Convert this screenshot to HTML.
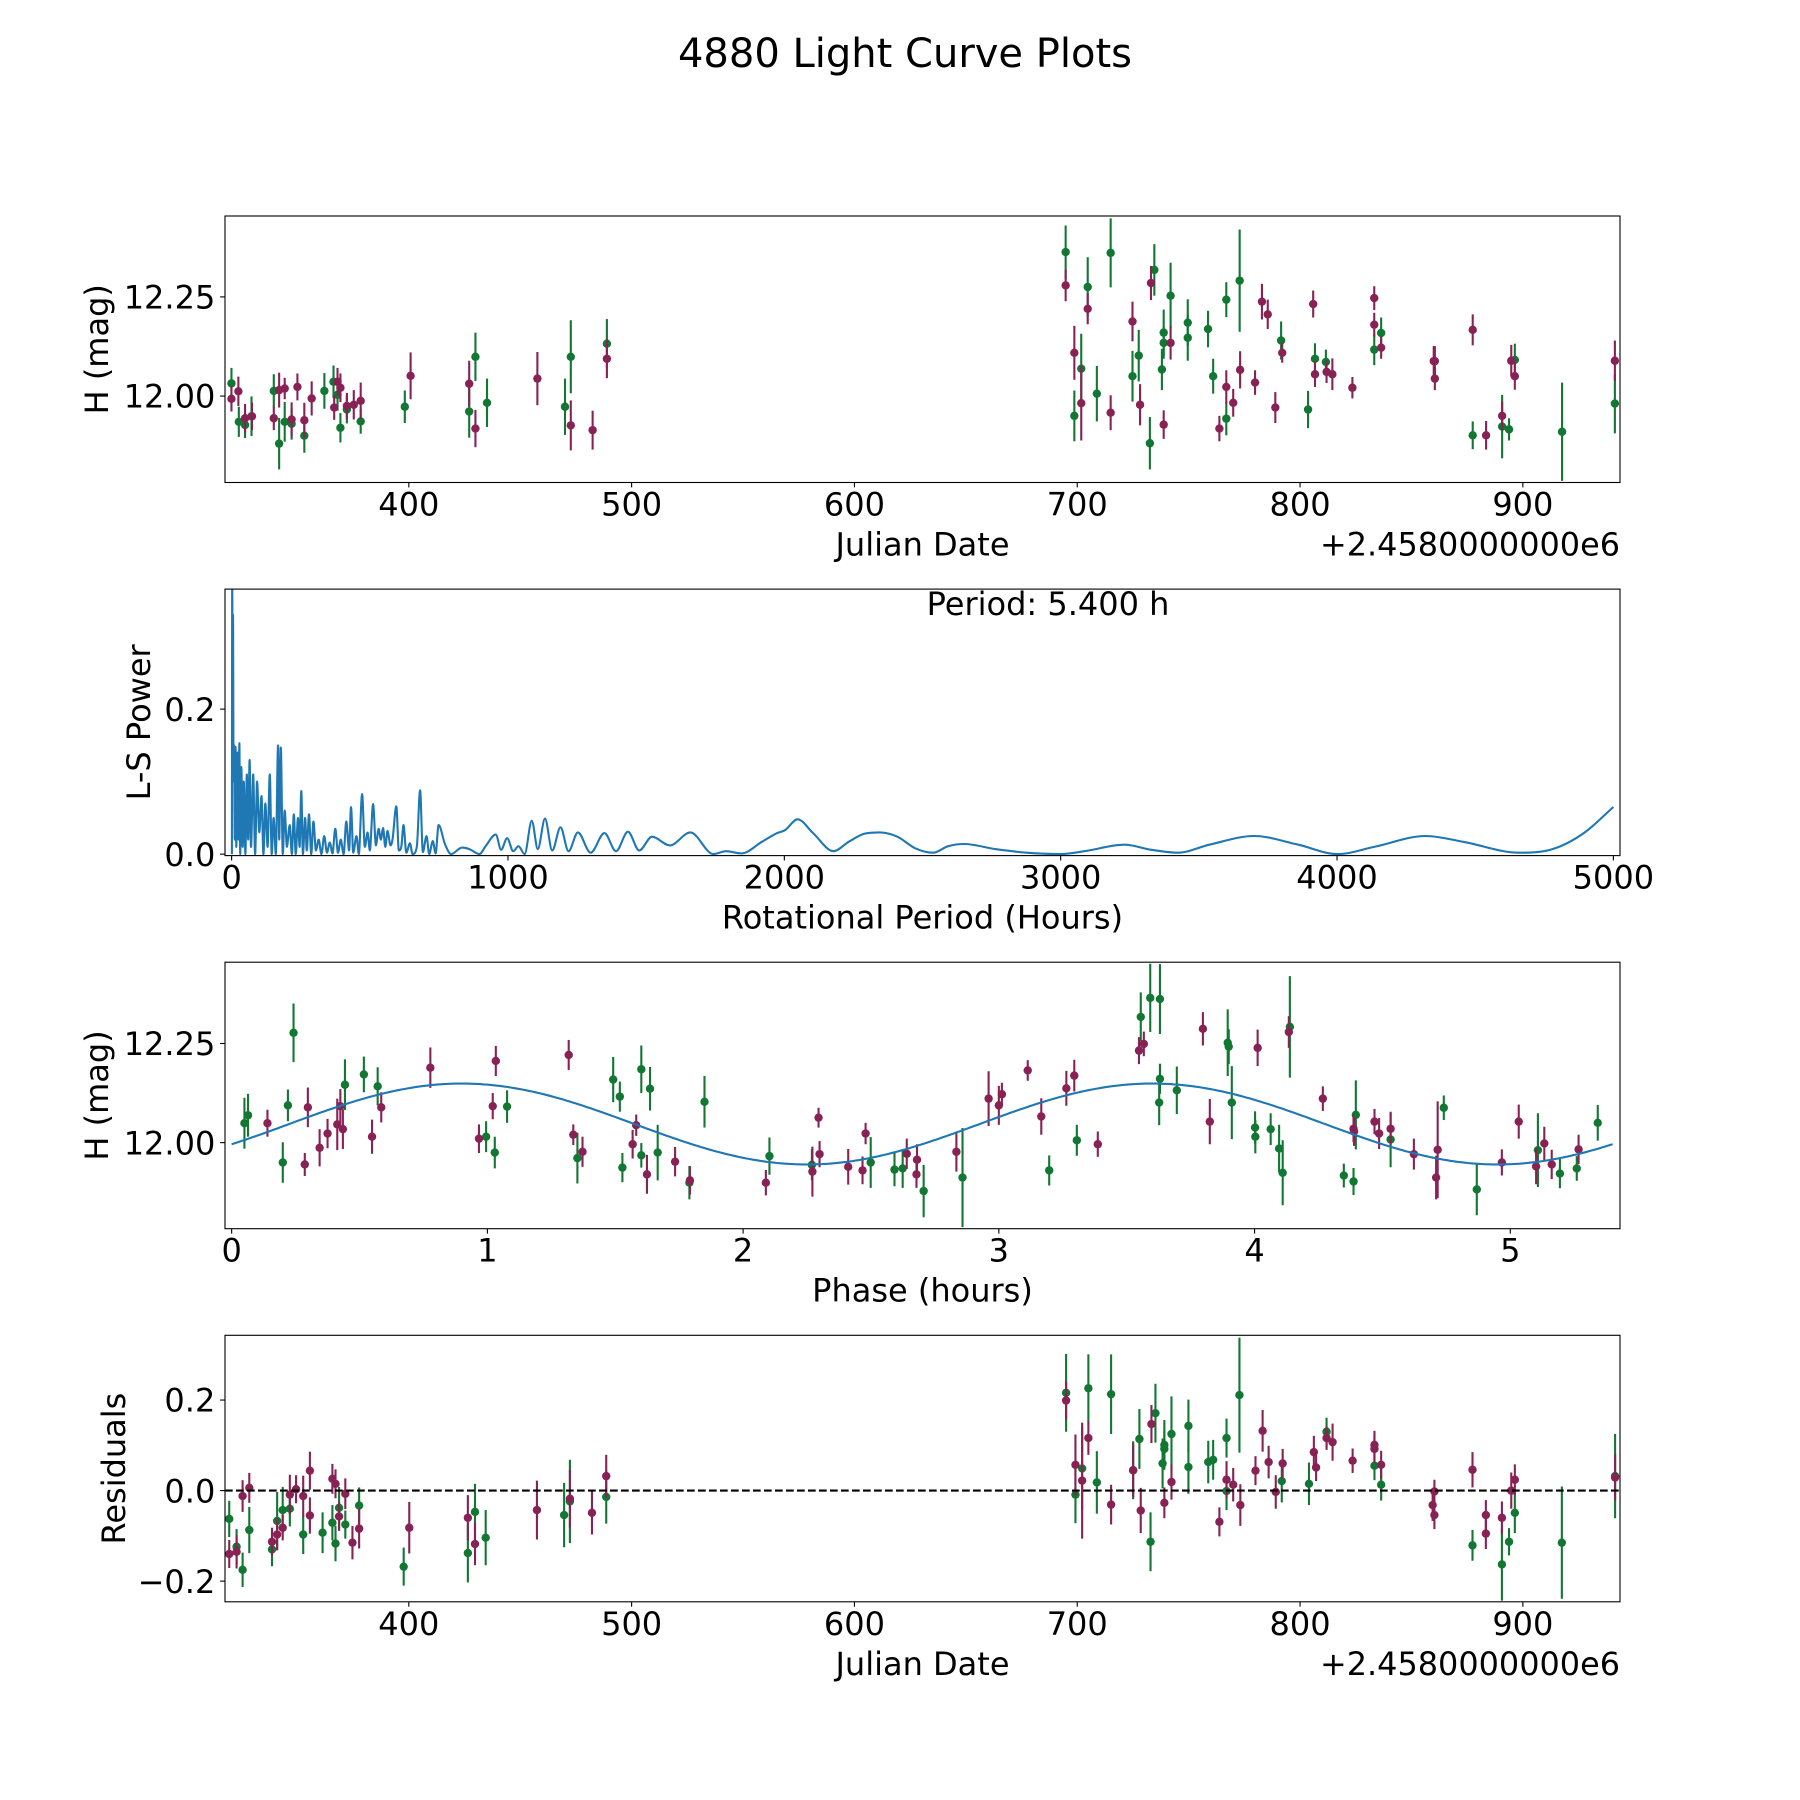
<!DOCTYPE html>
<html><head><meta charset="utf-8"><title>4880 Light Curve Plots</title>
<style>html,body{margin:0;padding:0;background:#fff}svg{display:block}text{font-family:"DejaVu Sans","Liberation Sans",sans-serif;fill:#000}</style>
</head><body>
<svg id="fig" xmlns="http://www.w3.org/2000/svg" width="1800" height="1800" viewBox="0 0 1800 1800">
<rect x="0" y="0" width="1800" height="1800" fill="#fff"/>
<text x="905" y="67" font-size="40" text-anchor="middle">4880 Light Curve Plots</text>
</svg>
<script>
// ---------- Panel 1: light curve (JD, mag, err) ----------
const p1GreenJd=[320.4,323.7,326.5,329.4,339.4,341.8,344.3,347.4,353.1,362.1,366.2,368,369.3,372.2,378.4,398.2,427.1,429.9,435.1,470.1,472.7,488.9,694.8,698.7,701.8,704.7,708.8,715,724.8,727.6,732.6,734.6,738,738.8,738.8,741.9,749.6,749.6,758.7,761,766.9,766.9,772.9,791.5,803.6,806.7,811.6,833.3,836.4,877.5,890.7,893.8,896.4,917.6,941.3];
const p1GreenMag=[12.032,11.935,11.927,11.949,12.013,11.88,11.935,11.93,11.9,12.013,12.036,12.003,11.92,11.966,11.936,11.973,11.961,12.099,11.983,11.973,12.099,12.132,12.363,11.95,12.069,12.275,12.006,12.361,12.05,12.102,11.881,12.318,12.067,12.16,12.134,12.253,12.185,12.147,12.169,12.05,12.243,11.943,12.291,12.14,11.966,12.094,12.086,12.117,12.159,11.901,11.923,11.916,12.091,11.91,11.981];
const p1GreenErr=[.039,.038,.033,.05,.042,.065,.05,.04,.043,.045,.041,.04,.037,.035,.031,.041,.066,.061,.061,.071,.092,.062,.067,.064,.088,.075,.07,.087,.064,.065,.066,.065,.052,.058,.04,.083,.059,.058,.046,.044,.044,.042,.129,.048,.047,.039,.031,.039,.039,.035,.08,.028,.041,.124,.075];
const p1MagJd=[320.4,323.5,326.5,329.6,339.4,341.8,344.3,347.4,350,353.1,356.4,366.5,368,369.3,372.2,375.3,378.4,400.8,427.1,429.9,457.7,472.7,482.5,488.9,694.8,698.7,701.8,704.7,715,724.8,728.2,733.1,738.8,741.9,763.8,766.9,770,773.1,779.8,782.9,785.5,792,788.9,805.9,806.7,811.9,814.5,823.5,833.3,833.3,836.4,860,860.5,860.5,877.5,883.5,890.7,894.8,896.4,941.3];
const p1MagMag=[11.993,12.012,11.944,11.949,11.944,12.015,12.019,11.941,12.023,11.939,11.994,11.971,12.036,12.021,11.975,11.978,11.988,12.051,12.031,11.918,12.044,11.926,11.914,12.094,12.279,12.109,11.982,12.22,11.958,12.188,11.978,12.285,11.928,12.134,11.918,12.023,11.983,12.066,12.034,12.238,12.206,12.109,11.971,12.232,12.055,12.061,12.055,12.021,12.247,12.18,12.122,12.088,12.044,12.088,12.167,11.901,11.95,12.089,12.05,12.089];
const p1MagErr=[.032,.037,.036,.035,.03,.044,.027,.043,.034,.044,.043,.031,.035,.036,.033,.037,.046,.059,.058,.047,.067,.063,.049,.049,.04,.068,.094,.039,.044,.05,.052,.043,.036,.042,.032,.042,.035,.047,.031,.045,.037,.025,.039,.034,.032,.028,.04,.027,.03,.03,.028,.038,.029,.038,.039,.036,.036,.04,.034,.051];

// ---------- Panel 2: Lomb-Scargle periodogram ----------
const lsPeriod=[1,2,4,5,7,9,11,14,17,21,25,28,31,35,40,44,50,55,60,65,70,78,85,92,100,108,115,122,130,138,145,152,160,168,172,178,185,192,200,210,218,225,232,240,246,252,258,266,272,280,288,296,305,315,325,335,345,355,365,375,385,395,405,415,425,432,440,452,460,472,482,492,500,512,522,532,540,548,556,564,575,582,596,605,614,622,632,645,655,670,682,692,705,715,728,738,749,773,794,834,860,897,919,956,975,997,1019,1038,1060,1086,1108,1134,1160,1190,1219,1253,1299,1349,1391,1434,1475,1521,1586,1660,1743,1789,1845,1919,1974,2002,2048,2104,2178,2233,2289,2345,2409,2474,2538,2593,2650,2763,2876,3000,3086,3231,3328,3425,3538,3699,3860,4002,4134,4320,4457,4659,4780,4893,5000];
const lsPower=[0,.37,.2,.33,.1,.15,.02,.148,.01,.14,.02,.153,0,.12,.01,.1,0,.11,.02,.13,.01,.11,0,.1,.03,.08,0,.07,.01,.11,0,.05,0,.15,.02,.147,0,.06,.01,.04,0,.055,0,.05,.01,.087,0,.05,.005,.055,0,.045,.005,.02,0,.025,.002,.016,.001,.035,.002,.02,0,.045,.005,.065,.002,.025,0,.083,.01,.03,.005,.069,.012,.035,.02,.036,.01,.032,.012,.02,.066,.005,.01,.04,.002,.015,0,.01,.088,.003,.025,0,.018,.001,.04,.013,0,.009,.007,0,.011,.027,.006,.022,.004,.011,0,.046,.007,.049,.005,.037,.004,.03,.002,.029,.004,.031,.005,.024,.012,.03,0,.004,.001,.017,.029,.033,.048,.029,.004,.017,.028,.03,.024,.008,.002,.011,.014,.007,.002,0,.004,.013,.006,.002,.013,.025,.013,0,.01,.025,.017,.002,.007,.029,.065];
const lsPeriodLabel=["Period: 5.400 h"];

// ---------- Panel 3: phased light curve (phase h, mag, err) ----------
const p3GreenPhase=[.05,.064,.2,.22,.242,.443,.517,.571,.995,1.029,1.077,1.352,1.492,1.518,1.528,1.602,1.602,1.636,1.666,1.79,1.849,2.103,2.269,2.499,2.592,2.624,2.706,2.858,3.197,3.305,3.555,3.592,3.63,3.63,3.627,3.696,3.895,3.899,3.911,4.002,4.003,4.063,4.096,4.11,4.138,4.349,4.387,4.396,4.532,4.74,4.869,5.108,5.194,5.26,5.342];
const p3GreenMag=[12.049,12.069,11.95,12.094,12.277,12.146,12.172,12.142,12.015,11.975,12.091,11.961,12.159,12.116,11.937,12.185,11.968,12.136,11.975,11.899,12.103,11.966,11.944,11.95,11.932,11.935,11.878,11.912,11.93,12.006,12.317,12.365,12.362,12.161,12.101,12.132,12.252,12.242,12.101,12.038,12.015,12.034,11.985,11.924,12.292,11.917,11.902,12.07,12.008,12.088,11.882,11.981,11.922,11.935,12.05];
const p3GreenErr=[.064,.054,.051,.04,.074,.064,.045,.048,.039,.04,.041,.064,.057,.038,.037,.06,.031,.055,.07,.042,.065,.047,.039,.064,.042,.049,.066,.125,.038,.039,.062,.086,.088,.038,.057,.06,.084,.044,.092,.041,.042,.04,.06,.082,.128,.03,.034,.087,.07,.031,.065,.093,.037,.031,.045];
const p3MagPhase=[.14,.286,.298,.344,.375,.413,.425,.435,.549,.585,.777,.967,1.021,1.033,1.318,1.336,1.372,1.568,1.582,1.624,1.734,1.792,2.089,2.271,2.295,2.299,2.411,2.467,2.479,2.64,2.68,2.678,2.834,2.96,3.0,3.012,3.113,3.166,3.264,3.295,3.387,3.548,3.567,3.798,3.825,4.012,4.134,4.267,4.387,4.389,4.469,4.487,4.532,4.623,4.71,4.716,4.967,5.033,5.101,5.133,5.162,5.267];
const p3MagMag=[12.049,11.945,12.089,11.987,12.023,12.046,12.092,12.034,12.015,12.089,12.189,12.01,12.092,12.206,12.221,12.02,11.977,11.996,12.044,11.92,11.952,11.905,11.899,11.927,12.063,11.971,11.939,11.93,12.023,11.972,11.957,11.92,11.977,12.111,12.094,12.122,12.182,12.066,12.137,12.169,11.996,12.232,12.249,12.287,12.053,12.239,12.279,12.111,12.035,12.028,12.053,12.023,12.035,11.971,11.912,11.982,11.95,12.053,11.94,11.998,11.945,11.983];
const p3MagErr=[.034,.029,.05,.047,.037,.065,.043,.05,.043,.038,.051,.036,.033,.038,.038,.026,.038,.036,.027,.049,.037,.036,.032,.063,.025,.033,.045,.035,.027,.038,.039,.034,.05,.069,.049,.029,.026,.046,.044,.04,.032,.034,.031,.042,.057,.046,.04,.031,.034,.036,.032,.039,.041,.039,.055,.122,.033,.043,.045,.042,.037,.037];
// sinusoid fit: [mean, amplitude, period (h), phase of maximum (h), curve end (h)]
const fitParams=[12.047,0.102,2.7,0.9,5.4];

// ---------- Panel 4: residuals (JD, residual, err) ----------
const p4GreenJd=[319.4,322.7,325.4,328.4,338.6,340.9,343.4,346.6,352.6,361.3,365.7,367.1,368.7,371.5,377.7,397.7,426.5,429.7,434.5,469.7,472.3,488.6,695,699.2,702.2,705,708.8,715.2,725.1,727.9,732.9,735.1,738.3,739.1,739.1,742.3,749.9,749.9,758.8,761,767,767,772.8,791.8,804,811.9,833.4,836.4,877.4,890.6,893.8,896.4,917.5,941.4];
const p4GreenRes=[-.0625,-.124,-.175,-.087,-.13,-.067,-.043,-.04,-.097,-.093,-.071,-.117,-.038,-.075,-.033,-.168,-.138,-.047,-.104,-.054,-.024,-.014,.216,-.009,.049,.226,.018,.213,.045,.114,-.113,.171,.06,.101,.092,.125,.143,.052,.063,.068,.116,-.001,.211,.021,.015,.13,.055,.013,-.121,-.163,-.113,-.049,-.115,.032];
const p4GreenErr=[.04,.039,.038,.051,.037,.064,.051,.039,.043,.045,.039,.039,.046,.031,.04,.042,.065,.062,.061,.071,.092,.059,.086,.063,.092,.075,.069,.088,.064,.066,.065,.065,.055,.055,.04,.083,.058,.059,.047,.044,.043,.042,.127,.047,.047,.031,.032,.035,.034,.08,.03,.045,.124,.093];
const p4MagJd=[319.4,322.7,325.4,328.4,338.6,340.9,343.4,346.6,349.4,352.6,355.6,355.6,365.7,367.1,368.7,371.5,374.7,377.7,400.2,426.5,429.7,457.5,472.3,482.2,488.6,695,699.2,702.2,705,715.2,725.1,728.5,733.3,739.1,742.3,763.8,767,770,773.2,780,783.2,785.9,789.1,792.2,806.2,807.2,811.9,814.6,823.6,833.4,833.4,836.4,859.5,860.3,860.3,877.4,883.4,883.4,890.6,894.8,896.4,941.4];
const p4MagRes=[-.14,-.135,-.012,.006,-.113,-.097,-.082,-.009,.003,-.012,.044,-.055,.026,.015,-.057,-.007,-.115,-.084,-.082,-.06,-.118,-.043,-.018,-.049,.032,.199,.057,.022,.116,-.031,.045,-.044,.147,-.027,.019,-.069,.024,.013,-.032,.044,.132,.063,-.003,.06,.085,.051,.116,.107,.066,.101,.092,.057,-.032,-.002,-.054,.046,-.054,-.095,-.06,0,.024,.029];
const p4MagErr=[.031,.037,.035,.033,.031,.035,.028,.044,.031,.045,.042,.04,.033,.032,.032,.034,.037,.044,.057,.05,.047,.065,.064,.048,.047,.042,.067,.128,.037,.044,.059,.05,.042,.034,.039,.032,.041,.037,.046,.032,.046,.036,.037,.032,.036,.03,.026,.041,.027,.031,.031,.031,.035,.026,.031,.039,.033,.034,.036,.04,.034,.051];

// ---------- Axis tick arrays ----------
const jdTicks=[400,500,600,700,800,900];
const jdTickLabels=["400","500","600","700","800","900"];
const magTicks=[12.0,12.25];
const magTickLabels=["12.00","12.25"];
const lsXTicks=[0,1000,2000,3000,4000,5000];
const lsXTickLabels=["0","1000","2000","3000","4000","5000"];
const lsYTicks=[0,0.2];
const lsYTickLabels=["0.0","0.2"];
const phaseTicks=[0,1,2,3,4,5];
const phaseTickLabels=["0","1","2","3","4","5"];
const resTicks=[-0.2,0,0.2];
const resTickLabels=["\u22120.2","0.0","0.2"];

const NS="http://www.w3.org/2000/svg";
const svg=document.getElementById('fig');
const GREEN="#117733",MAG="#882255",BLUE="#1f77b4";
function mk(tag,attrs,parent){const e=document.createElementNS(NS,tag);for(const k in attrs)e.setAttribute(k,attrs[k]);(parent||svg).appendChild(e);return e;}

const H=266.5,L=225,R=1620;
const axes=[
 {t:216.0,x0:317.5,x1:943.6,y0:11.782,y1:12.454,name:'lightcurve'},
 {t:589.1,x0:-24,x1:5024,y0:-0.002,y1:0.3655,name:'periodogram'},
 {t:962.2,x0:-0.026,x1:5.429,y0:11.783,y1:12.455,name:'phased'},
 {t:1335.3,x0:317.5,x1:943.6,y0:-0.2456,y1:0.343,name:'residuals'}
];
axes.forEach(a=>{a.b=a.t+H;a.l=L;a.r=R;});
function sx(a,v){return a.l+(v-a.x0)/(a.x1-a.x0)*(a.r-a.l);}
function sy(a,v){return a.b-(v-a.y0)/(a.y1-a.y0)*(a.b-a.t);}

axes.forEach((a,i)=>{
  const cp=mk('clipPath',{id:'clip'+i});
  mk('rect',{x:a.l,y:a.t,width:a.r-a.l,height:H},cp);
  a.g=mk('g',{'clip-path':'url(#clip'+i+')'});
  
  
});

function frame(a){
  const r=mk('rect',{x:a.l,y:a.t,width:a.r-a.l,height:H,fill:'none',stroke:'#000','stroke-width':1.1});
  
  
}
function xTicks(a,vals,labels){
  const g=mk('g',{});
  
  
  vals.forEach((v,i)=>{const x=sx(a,v);
    mk('line',{x1:x,x2:x,y1:a.b,y2:a.b+4.9,stroke:'#000','stroke-width':1.1},g);
    const t=mk('text',{x:x,y:a.b+33,'font-size':32,'text-anchor':'middle'},g);t.textContent=labels[i];
    
    });
}
function yTicks(a,vals,labels){
  const g=mk('g',{});
  
  
  vals.forEach((v,i)=>{const y=sy(a,v);
    mk('line',{x1:a.l-4.9,x2:a.l,y1:y,y2:y,stroke:'#000','stroke-width':1.1},g);
    const t=mk('text',{x:a.l-9.7,y:y+11.7,'font-size':32,'text-anchor':'end'},g);t.textContent=labels[i];
    
    });
}
function xLabel(a,txt,name){
  const t=mk('text',{x:(a.l+a.r)/2,y:a.b+73,'font-size':32,'text-anchor':'middle'});t.textContent=txt;
  
  
}
function yLabel(a,txt,cx,name){
  const cy=(a.t+a.b)/2;
  const t=mk('text',{x:cx,y:cy,'font-size':32,'text-anchor':'middle','dominant-baseline':'central',transform:'rotate(-90 '+cx+' '+cy+')'});t.textContent=txt;
  
  
}
function offsetText(a){
  const t=mk('text',{x:a.r,y:a.b+73,'font-size':32,'text-anchor':'end','textLength':300,'lengthAdjust':'spacingAndGlyphs'});t.textContent='+2.4580000000e6';
  
  
}
function errorbars(a,xs,ys,es,color,name){
  const g=mk('g',{},a.g);
  
  
  xs.forEach((xv,i)=>{const x=sx(a,xv);
    mk('line',{x1:x,x2:x,y1:sy(a,ys[i]-es[i]),y2:sy(a,ys[i]+es[i]),stroke:color,'stroke-width':2.1},g);});
  xs.forEach((xv,i)=>{
    const c=mk('ellipse',{cx:sx(a,xv),cy:sy(a,ys[i]),rx:4.2,ry:4.2,fill:color},g);
    
    });
}
// monotone cubic (Fritsch-Carlson) path through screen points
function smoothPath(X,Y){
  const n=X.length,d=[],m=[];
  for(let i=0;i<n-1;i++)d.push((Y[i+1]-Y[i])/(X[i+1]-X[i]));
  for(let i=0;i<n;i++){
    if(i===0)m.push(d[0]);else if(i===n-1)m.push(d[n-2]);
    else m.push(d[i-1]*d[i]<=0?0:(d[i-1]+d[i])/2);
  }
  for(let i=0;i<n-1;i++){
    if(d[i]===0){m[i]=0;m[i+1]=0;continue;}
    const a=m[i]/d[i],b=m[i+1]/d[i],s=a*a+b*b;
    if(s>9){const t=3/Math.sqrt(s);m[i]=t*a*d[i];m[i+1]=t*b*d[i];}
  }
  let p='M'+X[0].toFixed(1)+','+Y[0].toFixed(1);
  for(let i=0;i<n-1;i++){const h=(X[i+1]-X[i])/3;
    p+=' C'+(X[i]+h).toFixed(1)+','+(Y[i]+m[i]*h).toFixed(1)+' '+(X[i+1]-h).toFixed(1)+','+(Y[i+1]-m[i+1]*h).toFixed(1)+' '+X[i+1].toFixed(1)+','+Y[i+1].toFixed(1);}
  return p;
}

// Panel 1
let a=axes[0];
errorbars(a,p1GreenJd,p1GreenMag,p1GreenErr,GREEN,'green-series');
errorbars(a,p1MagJd,p1MagMag,p1MagErr,MAG,'magenta-series');
frame(a);xTicks(a,jdTicks,jdTickLabels);yTicks(a,magTicks,magTickLabels);
xLabel(a,'Julian Date','x-axis-title');yLabel(a,'H (mag)',97,'y-axis-title');offsetText(a);

// Panel 2
a=axes[1];
const lsX=lsPeriod.map(p=>sx(a,p)),lsY=lsPower.map(v=>sy(a,v));
const ls=mk('path',{d:smoothPath(lsX,lsY),fill:'none',stroke:BLUE,'stroke-width':2.1,'stroke-linejoin':'round'},a.g);


frame(a);xTicks(a,lsXTicks,lsXTickLabels);yTicks(a,lsYTicks,lsYTickLabels);
xLabel(a,'Rotational Period (Hours)','x-axis-title');yLabel(a,'L-S Power',139,'y-axis-title');
const pt=mk('text',{x:1048,y:615,'font-size':32,'text-anchor':'middle'});pt.textContent=lsPeriodLabel[0];



// Panel 3
a=axes[2];
let cpts=[];
for(let k=0;k<=400;k++){const p=fitParams[4]*k/400;
  const m=fitParams[0]+fitParams[1]*Math.cos(2*Math.PI*(p-fitParams[3])/fitParams[2]);
  cpts.push(sx(a,p).toFixed(1)+','+sy(a,m).toFixed(1));}
errorbars(a,p3GreenPhase,p3GreenMag,p3GreenErr,GREEN,'green-series');
errorbars(a,p3MagPhase,p3MagMag,p3MagErr,MAG,'magenta-series');
const fit=mk('polyline',{points:cpts.join(' '),fill:'none',stroke:BLUE,'stroke-width':2.1},a.g);


frame(a);xTicks(a,phaseTicks,phaseTickLabels);yTicks(a,magTicks,magTickLabels);
xLabel(a,'Phase (hours)','x-axis-title');yLabel(a,'H (mag)',97,'y-axis-title');

// Panel 4
a=axes[3];
errorbars(a,p4GreenJd,p4GreenRes,p4GreenErr,GREEN,'green-series');
errorbars(a,p4MagJd,p4MagRes,p4MagErr,MAG,'magenta-series');
const zl=mk('line',{x1:a.l,x2:a.r,y1:sy(a,0),y2:sy(a,0),stroke:'#000','stroke-width':2.1,'stroke-dasharray':'7.7 3.3'},a.g);


frame(a);xTicks(a,jdTicks,jdTickLabels);yTicks(a,resTicks,resTickLabels);
xLabel(a,'Julian Date','x-axis-title');yLabel(a,'Residuals',114,'y-axis-title');offsetText(a);
</script>
</body></html>
